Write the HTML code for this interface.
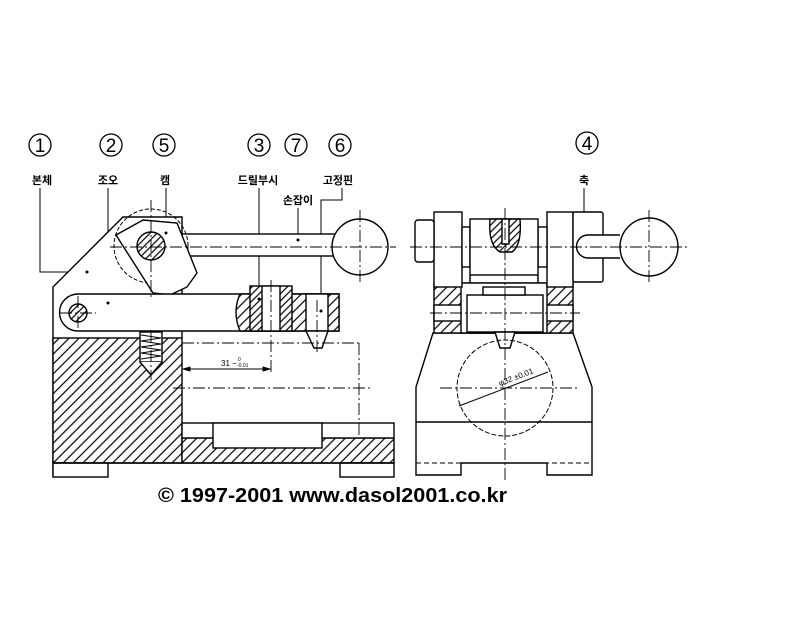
<!DOCTYPE html>
<html><head><meta charset="utf-8"><style>
html,body{margin:0;padding:0;background:#fff;}
svg{display:block}
.k{font-family:"Liberation Sans","Noto Sans CJK KR","NanumGothic",sans-serif;font-weight:bold;font-size:11px;}
</style></head><body>
<svg width="800" height="618" viewBox="0 0 800 618" xmlns="http://www.w3.org/2000/svg">
<defs>
<pattern id="h" patternUnits="userSpaceOnUse" width="7" height="7" patternTransform="rotate(45)">
<rect width="7" height="7" fill="#fff"/>
<line x1="1" y1="0" x2="1" y2="7" stroke="#000" stroke-width="1.2"/>
</pattern>
<pattern id="h2" patternUnits="userSpaceOnUse" width="5" height="5" patternTransform="rotate(45)">
<rect width="5" height="5" fill="#fff"/>
<line x1="1" y1="0" x2="1" y2="5" stroke="#000" stroke-width="1.2"/>
</pattern>
</defs>
<g fill="none" stroke="#000" stroke-width="1.3">
<circle cx="40" cy="145" r="11"/><circle cx="111" cy="145" r="11"/><circle cx="164" cy="145" r="11"/>
<circle cx="259" cy="145" r="11"/><circle cx="296" cy="145" r="11"/><circle cx="340" cy="145" r="11"/>
<circle cx="587" cy="143" r="11"/>
</g>
<g font-family="Liberation Sans, sans-serif" font-size="19" text-anchor="middle">
<text x="40" y="152">1</text><text x="111" y="152">2</text><text x="164" y="152">5</text>
<text x="259" y="152">3</text><text x="296" y="152">7</text><text x="340" y="152">6</text>
<text x="587" y="150">4</text>
</g>
<g class="k" text-anchor="middle">
<text x="42" y="184">본체</text><text x="108" y="184">조오</text><text x="165" y="184">캠</text>
<text x="258" y="184">드릴부시</text><text x="338" y="184">고정핀</text><text x="298" y="204">손잡이</text>
<text x="584" y="184">축</text>
</g>
<g fill="none" stroke="#000" stroke-width="1">
<polyline points="40,188 40,272 87,272"/>
<polyline points="108,188 108,303"/>
<polyline points="166,188 166,233"/>
<polyline points="259,188 259,299"/>
<polyline points="298,208 298,240"/>
<polyline points="342,188 342,200 321,200 321,311"/>
<polyline points="584,188 584,227"/>
</g>

<!-- LEFT VIEW -->
<g stroke="#000" stroke-width="1.4" fill="none">
<path d="M53,477 L53,287 L123,217 L182,217 L182,338" fill="#fff"/>
<rect x="53" y="338" width="129" height="125" fill="url(#h)"/>
<rect x="182" y="438" width="212" height="25" fill="url(#h)"/>
<rect x="182" y="423" width="212" height="15" fill="#fff"/>
<rect x="213" y="423" width="109" height="25" fill="#fff"/>
<rect x="53" y="463" width="55" height="14" fill="#fff"/>
<rect x="340" y="463" width="54" height="14" fill="#fff"/>
<line x1="53" y1="463" x2="394" y2="463"/>
<rect x="140" y="332" width="22" height="30" fill="#fff"/>
<polyline points="140,362 151,375 162,362" fill="#fff"/>
<polyline points="141,335 161,338 141,341 161,344 141,347 161,350 141,353 161,356 141,359" stroke-width="1"/>
<rect x="182" y="234" width="155" height="22" fill="#fff"/>
<circle cx="360" cy="247" r="28" fill="#fff"/>
<circle cx="151" cy="246" r="37" stroke-dasharray="4,2" stroke-width="1"/>
<polygon points="116,235 143,220 177,223 197,273 187,287 170,295 153,293" fill="#fff"/>
<circle cx="151" cy="246" r="14" fill="url(#h2)"/>
<path d="M78,294 L339,294 L339,331 L78,331 A18.5,18.5 0 0 1 78,294 Z" fill="#fff"/>
<path d="M240,294 L339,294 L339,331 L240,331 Q232,312 240,294Z" fill="url(#h)"/>
<rect x="250" y="286" width="42" height="45" fill="url(#h2)"/>
<rect x="262" y="286" width="18" height="45" fill="#fff"/>
<rect x="306" y="294" width="22" height="37" fill="#fff"/>
<polygon points="306,331 314,348 322,348 328,331" fill="#fff"/>
<circle cx="78" cy="313" r="9" fill="url(#h2)"/>
</g>
<g fill="#000"><circle cx="87" cy="272" r="1.5"/><circle cx="108" cy="303" r="1.5"/><circle cx="166" cy="233" r="1.5"/><circle cx="259" cy="299" r="1.5"/><circle cx="298" cy="240" r="1.5"/><circle cx="321" cy="311" r="1.5"/><circle cx="584" cy="227" r="1.5"/></g>
<g stroke="#000" stroke-width="0.9" fill="none" stroke-dasharray="12,3,2,3">
<line x1="110" y1="247" x2="396" y2="247"/>
<line x1="151" y1="200" x2="151" y2="300"/>
<line x1="360" y1="210" x2="360" y2="285"/>
<line x1="182" y1="343" x2="360" y2="343"/>
<line x1="173" y1="388" x2="373" y2="388"/>
<line x1="359" y1="343" x2="359" y2="438"/>
<line x1="271" y1="280" x2="271" y2="372"/>
<line x1="151" y1="330" x2="151" y2="380"/>
<line x1="60" y1="313" x2="96" y2="313"/>
<line x1="78" y1="296" x2="78" y2="331"/>
<line x1="317" y1="300" x2="317" y2="352"/>
</g>
<g stroke="#000" stroke-width="0.9">
<line x1="183" y1="369" x2="270" y2="369"/>
<polygon points="183,369 190,367 190,371" fill="#000"/><polygon points="270,369 263,367 263,371" fill="#000"/>
</g>
<text x="221" y="366" font-family="Liberation Sans,sans-serif" font-size="8">31</text>
<text x="232" y="366" font-family="Liberation Sans,sans-serif" font-size="8">−</text>
<text x="238" y="361" font-family="Liberation Sans,sans-serif" font-size="5">0</text>
<text x="237" y="367" font-family="Liberation Sans,sans-serif" font-size="5">-0.01</text>

<!-- RIGHT VIEW -->
<g stroke="#000" stroke-width="1.4" fill="none">
<polygon points="433,333 416,387 416,475 461,475 461,463 547,463 547,475 592,475 592,387 573,333" fill="#fff"/>
<line x1="416" y1="422" x2="592" y2="422"/>
<rect x="434" y="283" width="139" height="50" fill="url(#h)"/>
<rect x="434" y="305" width="139" height="16" fill="#fff"/>
<rect x="461" y="283" width="86" height="50" fill="#fff"/>
<rect x="467" y="295" width="76" height="37" fill="#fff"/>
<rect x="483" y="287" width="42" height="8" fill="#fff"/>
<polygon points="495,332 500,348 510,348 515,332" fill="#fff"/>
<rect x="434" y="212" width="28" height="75" fill="#fff"/>
<rect x="547" y="212" width="26" height="75" fill="#fff"/>
<rect x="415" y="220" width="19" height="42" rx="3" fill="#fff"/>
<rect x="462" y="227" width="8" height="40" fill="#fff"/>
<rect x="538" y="227" width="9" height="40" fill="#fff"/>
<rect x="470" y="219" width="68" height="56" fill="#fff"/>
<line x1="470" y1="275" x2="470" y2="283"/><line x1="538" y1="275" x2="538" y2="283"/>
<path d="M490,219 Q488,245 500,252 L512,252 Q522,245 520,219Z" fill="url(#h2)"/>
<rect x="502" y="219" width="7" height="25" fill="#fff"/>
<rect x="573" y="212" width="30" height="70" rx="2" fill="#fff"/>
<path d="M620,235 L588,235 A11.5,11.5 0 0 0 588,258 L620,258" fill="#fff"/>
<circle cx="649" cy="247" r="29" fill="#fff"/>
<circle cx="505" cy="388" r="48" stroke-dasharray="5,2" stroke-width="1"/>
<line x1="416" y1="463" x2="592" y2="463" stroke-dasharray="5,3" stroke-width="1"/>
</g>
<g stroke="#000" stroke-width="0.9" fill="none" stroke-dasharray="12,3,2,3">
<line x1="505" y1="208" x2="505" y2="482"/>
<line x1="410" y1="247" x2="690" y2="247"/>
<line x1="649" y1="210" x2="649" y2="285"/>
<line x1="430" y1="313" x2="580" y2="313"/>
<line x1="440" y1="388" x2="578" y2="388"/>
</g>
<line x1="459" y1="406" x2="548" y2="372" stroke="#000" stroke-width="1"/>
<text x="0" y="0" font-family="Liberation Sans,sans-serif" font-size="8" transform="translate(500,386) rotate(-21)">φ32 ±0.01</text>

<text x="158" y="502" font-family="Liberation Sans,sans-serif" font-weight="bold" font-size="20" textLength="349" lengthAdjust="spacingAndGlyphs">© 1997-2001 www.dasol2001.co.kr</text>
</svg>
</body></html>
